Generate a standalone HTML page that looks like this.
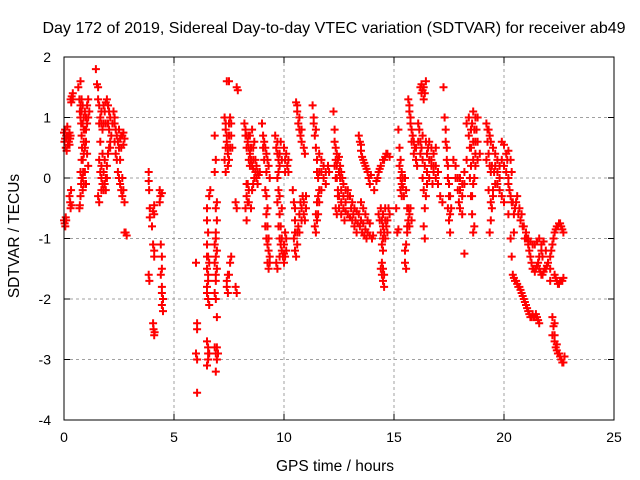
<!DOCTYPE html>
<html><head><meta charset="utf-8"><style>
html,body{margin:0;padding:0;background:#fff;}
svg{display:block;font-family:"Liberation Sans",sans-serif;}
</style></head><body>
<svg id="chart" width="640" height="480" viewBox="0 0 640 480">
<rect width="640" height="480" fill="#fff"/>
<text x="334" y="33" font-size="16" text-anchor="middle">Day 172 of 2019, Sidereal Day-to-day VTEC variation (SDTVAR) for receiver ab49</text>
<text x="335" y="471" font-size="15.5" text-anchor="middle">GPS time / hours</text>
<text x="19" y="236" font-size="15.5" text-anchor="middle" transform="rotate(-90 19 236)">SDTVAR / TECUs</text>
<g id="grid"></g>
<g id="ticks"></g>
<g id="marks"></g>
<rect x="64" y="57" width="550" height="363" fill="none" stroke="#000" stroke-width="1"/>
</svg>
<script>
const xTicks = [0,5,10,15,20,25];
const yTicks = [2,1,0,-1,-2,-3,-4];
const samples = [
[0,0.75],[0.02,0.6],[0.05,0.8],[0.08,0.5],[0.1,0.7],[0.12,0.65],[0.15,0.85],[0.18,0.55],[0.2,0.7],[0.22,0.6],[0.25,0.75],[0.28,0.65],[0.3,0.7],
[0,-0.7],[0.03,-0.75],[0.06,-0.8],[0.08,-0.65],[0.1,-0.7],[0.25,-0.3],[0.28,-0.4],[0.3,-0.5],[0.32,-0.2],[0.3,1.3],[0.35,1.35],[0.4,1.4],[0.33,1.25],
[0.65,1.5],[0.7,1.3],[0.72,1.1],[0.75,1.0],[0.78,0.9],[0.8,0.7],[0.82,0.5],[0.85,0.3],[0.87,0.1],[0.9,-0.1],[0.75,-0.3],[0.7,-0.5],[0.72,-0.45],
[0.85,1.2],[0.9,1.0],[0.95,0.8],[1.0,0.6],[1.05,0.4],[1.1,0.2],[1.0,1.0],[1.05,1.2],[1.1,1.3],[1.15,1.1],[0.95,0.1],[1.0,-0.1],[0.8,0.0],[0.85,-0.2],[0.75,1.6],[0.9,0.6],[0.8,1.3],
[1.45,1.8],[1.5,1.55],[1.55,1.3],[1.6,1.2],[1.65,1.0],[1.7,0.9],[1.75,0.8],[1.8,0.9],[1.85,1.1],[1.9,1.25],[1.95,1.3],[2.0,1.2],[2.05,1.1],[2.1,1.0],
[1.6,0.3],[1.65,0.1],[1.7,0.0],[1.75,-0.1],[1.8,-0.2],[1.85,-0.1],[1.9,0.0],[1.95,0.2],[2.0,0.4],[2.05,0.5],[1.55,-0.3],[1.6,-0.4],[1.7,0.2],[1.8,0.1],[2.1,0.6],[2.15,0.7],[2.1,0.5],
[2.2,0.9],[2.25,1.1],[2.3,1.0],[2.35,0.8],[2.4,0.7],[2.45,0.6],[2.5,0.5],[2.55,0.65],[2.6,0.7],[2.65,0.7],[2.7,0.75],[2.75,0.65],[2.4,0.3],[2.45,0.1],[2.5,0.0],[2.55,-0.1],[2.6,-0.2],[2.65,-0.3],[2.7,-0.2],[2.75,-0.4],[2.8,-0.9],[2.85,-0.95],[2.75,-0.9],
[3.85,0.1],[3.85,-0.05],[3.87,-0.2],[3.9,-0.5],[3.9,-0.65],[3.85,-1.6],[3.88,-1.7],[4.0,-0.8],[4.05,-1.1],[4.1,-1.3],[4.1,-1.2],[4.05,-2.4],[4.07,-2.5],[4.1,-2.6],[4.12,-2.55],[4.05,-0.55],[4.1,-0.6],[4.1,-0.45],
[4.35,-0.2],[4.38,-0.3],[4.35,-0.4],[4.4,-1.1],[4.45,-1.3],[4.45,-1.5],[4.4,-1.6],[4.45,-1.8],[4.5,-2.0],[4.45,-2.1],[4.45,-1.9],[4.5,-2.2],[4.45,-0.25],
[6.0,-1.4],[6.05,-2.4],[6.05,-2.5],[6.0,-2.9],[6.05,-3.0],[6.05,-3.55],
[6.5,-0.5],[6.5,-0.7],[6.55,-0.9],[6.5,-1.1],[6.55,-1.3],[6.5,-1.5],[6.55,-1.7],[6.5,-1.9],[6.55,-2.0],[6.6,-2.1],[6.5,-2.7],[6.55,-2.8],[6.6,-2.9],[6.55,-3.0],[6.5,-3.1],[6.6,-0.3],[6.65,-0.2],
[6.85,0.7],[6.9,0.3],[6.85,0.1],[6.9,-0.5],[6.95,-0.7],[6.9,-0.9],[6.85,-1.1],[6.9,-1.3],[6.95,-1.5],[6.9,-1.7],[6.85,-1.9],[6.9,-2.0],[6.95,-2.3],[6.85,-2.8],[6.9,-2.9],[6.95,-3.0],[6.9,-3.2],[7.0,-2.9],
[7.4,1.6],[7.5,1.6],[7.3,1.0],[7.35,0.8],[7.4,0.6],[7.45,0.4],[7.3,0.3],[7.35,0.1],[7.5,0.9],[7.6,0.7],[7.65,0.5],[7.55,1.0],[7.5,0.3],[7.4,-1.8],[7.45,-1.9],[7.4,-1.7],[7.5,-1.6],[7.55,-1.4],[7.6,-1.3],[7.8,-1.8],[7.85,-1.9],[7.8,-0.4],[7.85,-0.5],[7.85,1.5],[7.9,1.45],
[8.2,0.9],[8.25,0.8],[8.3,0.7],[8.35,0.6],[8.4,0.5],[8.45,0.4],[8.5,0.3],[8.55,0.2],[8.6,0.15],[8.65,0.0],[8.7,0.1],[8.75,0.0],[8.8,0.1],[8.85,0.05],[8.9,0.1],[8.4,0.3],[8.35,-0.1],[8.3,-0.3],[8.25,-0.5],[8.3,-0.7],[8.4,-0.4],[8.5,-0.5],[8.55,-0.2],[8.6,-0.1],
[9.0,0.9],[9.05,0.7],[9.1,0.6],[9.15,0.5],[9.2,0.4],[9.25,0.3],[9.3,0.2],[9.35,0.0],[9.2,-0.3],[9.25,-0.5],[9.15,-0.8],[9.2,-1.0],[9.25,-1.1],[9.3,-1.2],[9.35,-1.3],[9.25,-1.4],[9.3,-1.5],[8.6,0.5],[8.65,0.6],[8.55,0.8],[8.45,0.7],
[9.6,0.7],[9.65,0.5],[9.7,0.4],[9.75,0.3],[9.8,0.2],[9.7,0.0],[9.75,-0.2],[9.7,-0.4],[9.8,-0.6],[9.75,-0.8],[9.8,-1.0],[9.85,-1.1],[9.9,-1.2],[9.95,-1.3],[10.0,-1.25],[10.05,-1.3],[10.0,-1.1],[10.05,-0.9],[10.1,-1.0],[9.9,-0.5],
[10.0,0.5],[10.05,0.3],[10.1,0.4],[10.15,0.2],[10.2,0.1],[9.65,-1.4],[9.7,-1.5],[9.8,-1.3],[9.9,0.3],[9.85,0.6],
[10.55,1.25],[10.6,1.1],[10.65,0.9],[10.7,0.8],[10.75,0.7],[10.8,0.6],[10.9,0.5],[10.95,0.4],
[10.4,-0.2],[10.45,-0.4],[10.5,-0.7],[10.45,-1.0],[10.5,-1.2],[10.55,-1.3],[10.6,-0.9],[10.65,-0.8],[10.7,-0.6],[10.75,-0.4],[10.8,-0.5],[10.85,-0.3],[10.9,-0.6],[10.95,-0.7],[11.0,-0.5],
[11.3,1.2],[11.35,1.0],[11.4,0.7],[11.45,0.5],[11.5,0.3],[11.55,0.0],[11.6,-0.2],[11.5,-0.4],[11.45,-0.6],[11.5,-0.7],[11.6,-0.4],[11.7,0.1],[11.8,0.0],[11.9,-0.1],[12.0,0.2],[12.05,0.1],[11.6,0.4],[11.7,0.3],[11.4,-0.8],[11.45,-0.9],
[12.25,1.1],[12.3,0.8],[12.35,0.5],[12.4,0.4],[12.45,0.3],[12.5,0.35],[12.55,0.2],[12.6,0.1],[12.65,0.0],[12.7,-0.1],[12.8,-0.2],[12.9,-0.3],[12.3,0.2],[12.4,0.0],[12.45,-0.2],[12.5,-0.3],[12.6,-0.4],[12.7,-0.5],[12.8,-0.55],[12.9,-0.6],[13.0,-0.65],[13.1,-0.7],[13.2,-0.8],[13.3,-0.9],[12.35,-0.5],[12.4,-0.6],[12.45,-0.3],
[13.4,0.7],[13.45,0.6],[13.5,0.45],[13.55,0.35],[13.6,0.3],[13.7,0.2],[13.8,0.1],[13.85,0.0],[13.9,-0.1],[13.95,0.05],
[12.9,-0.2],[13.0,-0.3],[13.1,-0.4],[13.2,-0.5],[13.3,-0.55],[13.4,-0.6],[13.5,-0.7],[13.6,-0.75],[13.7,-0.85],[13.8,-0.9],[13.9,-0.95],[14.0,-1.0],[14.05,-0.95],[13.5,-0.4],[13.6,-0.5],[13.7,-0.6],[13.8,-0.7],[13.9,-0.75],
[14.1,-0.2],[14.2,-0.05],[14.3,0.1],[14.4,0.2],[14.5,0.3],[14.6,0.35],[14.7,0.4],[14.8,0.35],
[14.3,-0.6],[14.4,-0.5],[14.5,-0.6],[14.6,-0.7],[14.5,-0.8],[14.4,-0.9],[14.45,-1.1],[14.5,-1.2],[14.6,-1.0],[14.65,-0.8],[14.7,-0.7],[14.75,-0.5],[14.8,-0.6],[14.4,-1.5],[14.45,-1.6],[14.5,-1.7],[14.55,-1.8],[14.45,-1.4],
[15.2,0.8],[15.25,0.5],[15.3,0.3],[15.35,0.1],[15.4,0.0],[15.3,-0.2],[15.35,-0.3],[15.4,-0.15],[15.5,0.0],[15.55,-0.2],[15.6,-0.5],[15.1,-0.5],[15.15,-0.9],[15.2,-0.85],
[15.5,-1.2],[15.55,-1.1],[15.6,-0.9],[15.65,-0.7],[15.7,-0.6],[15.75,-0.5],[15.8,-0.7],[15.5,-1.4],[15.55,-1.5],
[15.65,1.3],[15.7,1.1],[15.75,1.0],[15.8,0.8],[15.85,0.7],[15.9,0.6],[15.95,0.5],[16.0,0.3],[16.05,0.2],[16.1,0.9],[16.15,0.8],[16.2,0.6],[16.25,0.5],[16.3,0.3],
[16.2,1.5],[16.25,1.55],[16.3,1.45],[16.35,1.3],[16.4,1.4],[16.45,1.6],
[16.3,0.0],[16.35,-0.2],[16.4,-0.5],[16.45,-0.3],[16.5,0.1],[16.6,0.3],[16.7,0.2],[16.8,0.1],[16.9,0.0],[17.0,-0.1],[17.1,-0.3],[17.2,-0.4],[16.6,0.6],[16.7,0.5],[16.8,0.4],[16.9,0.5],[16.5,0.4],[16.4,-1.0],[16.35,-0.8],
[17.25,1.5],[17.3,1.0],[17.35,0.8],[17.4,0.5],[17.45,0.2],[17.5,-0.1],[17.45,-0.5],[17.5,-0.7],[17.55,-0.9],[17.6,-0.5],[17.55,-0.3],
[17.7,0.3],[17.8,0.2],[17.9,0.0],[18.0,-0.2],[18.1,-0.3],[18.2,-0.1],[18.3,0.3],[18.1,-0.6],[18.0,-0.5],[18.2,-1.25],
[18.3,0.9],[18.4,1.0],[18.5,0.8],[18.6,1.1],[18.7,1.0],[18.8,1.0],[18.5,0.5],[18.6,0.3],[18.7,0.6],[18.45,0.0],[18.5,-0.3],[18.55,-0.6],[18.6,-0.1],[18.7,0.2],[18.8,0.6],[18.9,0.4],[18.6,-0.9],[18.65,-0.8],
[19.2,0.9],[19.3,0.8],[19.4,0.6],[19.5,0.5],[19.6,0.4],[19.7,0.3],[19.8,0.2],[19.4,0.1],[19.5,-0.2],[19.45,-0.5],[19.4,-0.7],[19.35,-0.9],[19.5,-0.3],[19.6,0.2],[19.7,0.1],[19.8,-0.2],[19.9,-0.3],[20.0,-0.4],[20.1,0.4],[20.2,0.45],[20.3,0.3],[20.35,0.1],[20.2,0.0],[19.2,0.3],[19.3,-0.2],[19.9,0.6],[20.0,0.55],
[20.2,-0.1],[20.3,-0.3],[20.4,-0.4],[20.5,-0.5],[20.6,-0.3],[20.7,-0.5],[20.8,-0.6],[20.9,-0.8],[21.0,-0.9],[21.1,-1.1],[21.2,-1.3],[21.3,-1.5],[21.4,-1.55],[21.5,-1.45],[21.6,-1.3],[21.7,-1.2],
[20.2,-0.6],[20.3,-1.0],[20.35,-1.3],[20.4,-1.6],[20.5,-1.7],[20.6,-1.75],[20.7,-1.8],[20.8,-1.9],[20.9,-2.0],[21.0,-2.1],[21.1,-2.2],[21.2,-2.3],[21.3,-2.25],[21.4,-2.3],[21.5,-2.3],[21.6,-2.4],[20.45,-0.9],
[21.0,-1.0],[21.2,-1.05],[21.4,-1.1],[21.6,-1.0],[21.8,-1.05],[21.9,-1.2],[21.75,-1.3],
[22.1,-1.3],[22.2,-1.1],[22.3,-0.9],[22.4,-0.8],[22.5,-0.75],[22.6,-0.8],[22.7,-0.9],
[22.3,-1.6],[22.4,-1.7],[22.5,-1.75],[22.6,-1.7],[22.7,-1.65],[22.1,-1.5],[22.1,-1.7],
[22.2,-2.6],[22.3,-2.7],[22.35,-2.8],[22.4,-2.85],[22.5,-2.9],[22.6,-3.0],[22.7,-3.05],[22.75,-2.95],[22.25,-2.45],[22.2,-2.3],
[21.6,-1.5],[21.7,-1.6],[21.8,-1.55],[21.9,-1.5],[22.0,-1.4]
];
const extraSamples = [
[0.05,0.65],[0.15,0.7],[0.25,0.55],[0.12,0.45],[0.35,-0.45],[0.4,1.3],
[0.75,1.2],[0.8,1.1],[0.85,0.9],[0.9,0.8],[0.95,0.5],[0.8,0.3],[0.75,0.1],[0.85,0.0],[0.9,0.4],[1.0,0.8],[1.05,0.9],[0.95,1.1],[0.78,-0.1],[1.1,1.0],
[1.6,0.9],[1.7,1.1],[1.8,1.2],[1.9,0.9],[2.0,0.9],[1.65,0.6],[1.75,0.4],[1.85,0.3],[1.95,0.0],[1.7,-0.2],[1.9,-0.2],[2.05,0.8],[1.55,1.5],
[2.3,0.6],[2.35,0.4],[2.5,0.8],[2.6,0.5],[2.55,0.3],[2.7,0.55],[2.65,0.0],[2.3,0.9],
[6.5,-1.3],[6.55,-1.6],[6.5,-1.8],[6.55,-2.9],[6.6,-1.4],[6.9,-1.0],[6.95,-1.2],[6.85,-1.4],[6.9,-1.6],[6.95,-0.4],[6.95,-2.8],
[7.35,0.9],[7.4,0.7],[7.45,0.5],[7.5,0.7],[7.55,0.5],[7.45,0.2],[7.6,0.9],[7.45,-1.6],[7.35,0.5],
[8.25,0.7],[8.3,0.5],[8.4,0.7],[8.45,0.2],[8.5,0.5],[8.6,0.3],[8.7,0.3],[8.8,-0.1],[8.75,0.2],[8.3,-0.1],[8.35,-0.4],[8.4,-0.2],
[9.05,0.5],[9.1,0.3],[9.2,0.1],[9.15,-0.2],[9.2,-0.6],[9.25,-0.8],[9.3,-1.0],[9.35,-1.4],
[9.7,0.6],[9.8,0.4],[9.75,0.1],[9.8,-0.3],[9.85,-0.8],[9.9,-1.0],[10.0,-1.4],[10.1,-1.2],[10.05,0.1],[10.2,0.3],
[10.6,1.2],[10.7,1.0],[10.8,0.8],[10.5,-0.9],[10.6,-1.1],[10.7,-0.9],[10.8,-0.7],[10.9,-0.4],[11.0,-0.3],[10.5,-0.5],
[11.35,0.9],[11.45,0.8],[11.5,0.1],[11.55,-0.3],[11.6,0.1],[11.7,-0.2],[11.8,0.2],[11.9,0.1],[11.55,-0.6],
[12.3,0.6],[12.35,0.3],[12.4,0.2],[12.5,0.1],[12.55,0.0],[12.6,-0.2],[12.7,-0.3],[12.8,-0.4],[12.35,0.0],[12.5,-0.5],[12.6,-0.6],[12.75,-0.7],
[13.05,-0.5],[13.15,-0.6],[13.25,-0.7],[13.35,-0.75],[13.45,-0.8],[13.55,-0.9],[13.65,-0.95],[13.75,-1.0],[13.5,0.55],[13.65,0.25],[13.75,0.15],
[14.35,-0.7],[14.45,-0.7],[14.55,-0.9],[14.6,-0.5],[14.7,-0.9],[14.5,-1.0],[14.5,-1.5],[14.55,-1.6],[14.25,0.0],[14.35,0.15],[14.55,0.3],[14.65,0.4],
[15.25,0.2],[15.3,0.0],[15.35,-0.1],[15.45,-0.3],[15.6,-0.8],[15.65,-0.5],[15.7,-0.8],
[15.7,1.2],[15.75,0.9],[15.8,0.6],[15.9,0.4],[16.0,0.5],[16.1,0.6],[16.2,0.4],[16.3,0.7],[16.25,1.4],[16.35,1.5],
[16.4,0.2],[16.5,-0.1],[16.55,0.5],[16.6,0.0],[16.7,0.3],[16.8,0.2],[16.9,0.2],[17.0,0.1],[16.75,-0.1],[16.45,0.6],
[17.35,0.6],[17.4,0.3],[17.45,0.0],[17.5,-0.3],[17.55,-0.6],
[17.8,0.0],[17.9,-0.2],[18.0,0.0],[18.1,-0.1],[18.2,0.1],[17.95,-0.4],
[18.4,0.7],[18.45,0.5],[18.55,0.9],[18.65,0.8],[18.75,0.8],[18.5,0.2],[18.6,0.6],[18.7,0.4],[18.8,0.3],[18.55,-0.3],[18.65,0.0],
[19.25,0.6],[19.3,0.4],[19.35,0.2],[19.45,0.2],[19.55,0.1],[19.6,-0.1],[19.4,-0.4],[19.7,-0.1],[19.8,0.0],[19.9,0.3],[20.0,0.2],[20.1,0.1],[20.15,0.3],[19.25,0.8],[19.35,0.7],
[20.25,-0.2],[20.35,-0.4],[20.45,-0.6],[20.55,-0.4],[20.65,-0.6],[20.75,-0.7],[20.85,-0.8],[20.95,-1.0],[21.05,-1.0],[21.15,-1.2],[21.25,-1.4],[21.35,-1.5],[21.45,-1.5],[21.55,-1.4],
[20.45,-1.65],[20.55,-1.7],[20.65,-1.8],[20.75,-1.85],[20.85,-1.95],[20.95,-2.05],[21.05,-2.15],[21.15,-2.25],[21.25,-2.3],[21.35,-2.3],[21.45,-2.25],[21.55,-2.35],
[21.1,-1.0],[21.3,-1.1],[21.5,-1.05],[21.7,-1.1],[21.65,-1.55],[21.75,-1.6],[21.85,-1.5],[21.95,-1.45],
[22.15,-1.2],[22.25,-1.0],[22.35,-0.85],[22.45,-0.8],[22.55,-0.75],[22.65,-0.85],[22.35,-1.65],[22.45,-1.75],[22.55,-1.7],[22.65,-1.7],
[22.3,-2.6],[22.4,-2.75],[22.45,-2.9],[22.55,-2.95],[22.65,-3.05],[22.3,-2.4]
];
const X0=64,X1=614,Y0=420,Y1=57,XMIN=0,XMAX=25,YMIN=-4,YMAX=2;
function xScale(t){return X0+(t-XMIN)/(XMAX-XMIN)*(X1-X0);}
function yScale(v){return Y0-(v-YMIN)/(YMAX-YMIN)*(Y0-Y1);}
const NS="http://www.w3.org/2000/svg";
const grid=document.getElementById('grid'),ticks=document.getElementById('ticks'),marks=document.getElementById('marks');
function mk(tag,attrs,parent){const e=document.createElementNS(NS,tag);for(const k in attrs)e.setAttribute(k,attrs[k]);parent.appendChild(e);return e;}
xTicks.forEach(t=>{
  const x=xScale(t);
  if(t>XMIN&&t<XMAX){const g=mk('line',{x1:x,x2:x,y1:Y1,y2:Y0,stroke:'#a0a0a0','stroke-dasharray':'3,3'},grid);
  
  }
  const a=mk('line',{x1:x,x2:x,y1:Y0,y2:Y0-6,stroke:'#000'},ticks);
  
  
  const b=mk('line',{x1:x,x2:x,y1:Y1,y2:Y1+6,stroke:'#000'},ticks);
  
  
  const l=mk('text',{x:x,y:442,'font-size':14,'text-anchor':'middle'},ticks);l.textContent=t;
  
  
});
yTicks.forEach(v=>{
  const y=yScale(v);
  if(v>YMIN&&v<YMAX){const g=mk('line',{x1:X0,x2:X1,y1:y,y2:y,stroke:'#a0a0a0','stroke-dasharray':'3,3'},grid);
  
  }
  const a=mk('line',{x1:X0,x2:X0+6,y1:y,y2:y,stroke:'#000'},ticks);
  
  
  const b=mk('line',{x1:X1,x2:X1-6,y1:y,y2:y,stroke:'#000'},ticks);
  
  
  const l=mk('text',{x:51,y:y+5,'font-size':14,'text-anchor':'end'},ticks);l.textContent=v;
  
  
});
let d='';
samples.concat(extraSamples).forEach(p=>{const x=xScale(p[0]),y=yScale(p[1]);d+=`M${x-4} ${y}h8M${x} ${y-4}v8`;});
const path=mk('path',{d:d,stroke:'#ff0000','stroke-width':2,fill:'none'},marks);


</script>
</body></html>
